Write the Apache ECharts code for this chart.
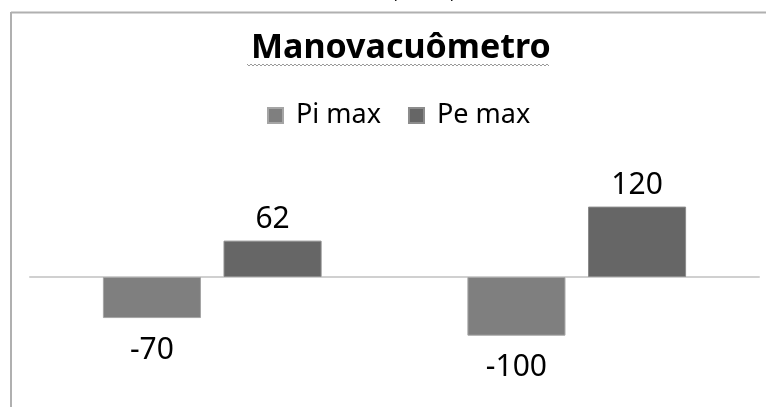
<!DOCTYPE html>
<html>
<head>
<meta charset="utf-8">
<script src="https://cdn.jsdelivr.net/npm/echarts@6/dist/echarts.min.js"></script>
<style>
html,body{margin:0;padding:0;background:#fff;}
#chart{width:766px;height:407px;}
</style>
</head>
<body>
<div id="chart"></div>
<script>
//dados do gráfico
var categorias = ['A', 'B'];
var piMax = [-70, -100];
var peMax = [62, 120];
var nomes = ['Pi max', 'Pe max'];

//rótulo em cima para positivos, embaixo para negativos
function itens(valores){
	return valores.map(function(v){
		return {
			value: v,
			label: {position: v < 0 ? 'bottom' : 'top', distance: v < 0 ? 17 : 6}
		};
	});
}

//sublinhado ondulado do título
var onda = [];
for (var i = 0, x = 247; x <= 549; x += 2, i++) {
	onda.push([x, i % 2 === 0 ? 64 : 66]);
}

var grafico = echarts.init(document.getElementById('chart'));
var option = {
	animation: false,
	textStyle: {fontFamily: 'Noto Sans'},
	title: {
		text: 'Manovacuômetro',
		left: 246,
		top: 26,
		textStyle: {fontSize: 34, fontWeight: 'bold', color: '#000', fontFamily: 'Noto Sans'}
	},
	legend: {
		data: nomes,
		top: 97,
		left: 262,
		icon: 'rect',
		itemWidth: 15,
		itemHeight: 15,
		itemGap: 27,
		textStyle: {fontSize: 27, color: '#000', fontFamily: 'Noto Sans', padding: [0, 0, 0, 8]}
	},
	grid: {left: 30, right: 7, top: 189, bottom: 42},
	xAxis: {
		type: 'category',
		data: categorias,
		axisLine: {onZero: true, lineStyle: {color: '#d0d0d0', width: 2}},
		axisTick: {show: false},
		axisLabel: {show: false}
	},
	yAxis: {
		type: 'value',
		min: -150,
		max: 150,
		show: false,
		splitLine: {show: false}
	},
	series: [
		{
			name: nomes[0],
			type: 'bar',
			data: itens(piMax),
			barGap: '23%',
			barCategoryGap: '40%',
			itemStyle: {color: '#7f7f7f', borderColor: '#a5a5a5', borderWidth: 1},
			label: {show: true, fontSize: 30, color: '#000', fontFamily: 'Noto Sans'}
		},
		{
			name: nomes[1],
			type: 'bar',
			data: itens(peMax),
			barGap: '23%',
			barCategoryGap: '40%',
			itemStyle: {color: '#666666', borderColor: '#8c8c8c', borderWidth: 1},
			label: {show: true, fontSize: 30, color: '#000', fontFamily: 'Noto Sans'}
		}
	],
	graphic: [
		{type: 'line', shape: {x1: 11, y1: 12.5, x2: 766, y2: 12.5}, style: {stroke: '#b0b0b0', lineWidth: 2}},
		{type: 'line', shape: {x1: 11, y1: 12, x2: 11, y2: 407}, style: {stroke: '#b0b0b0', lineWidth: 2}},
		{type: 'polyline', shape: {points: onda}, style: {stroke: '#9a9a9a', lineWidth: 1, fill: null}},
		{type: 'text', x: 394, y: -10, style: {text: '.', font: '14px "Liberation Serif"', fill: '#000'}},
		{type: 'text', x: 450, y: -10, style: {text: '.', font: '14px "Liberation Serif"', fill: '#000'}},
		{type: 'text', x: 514, y: -19, style: {text: 'p', font: '18px "Liberation Serif"', fill: '#000'}},
		{type: 'text', x: 584, y: -19, style: {text: 'p', font: '18px "Liberation Serif"', fill: '#000'}}
	]
};
grafico.setOption(option);
</script>
</body>
</html>
